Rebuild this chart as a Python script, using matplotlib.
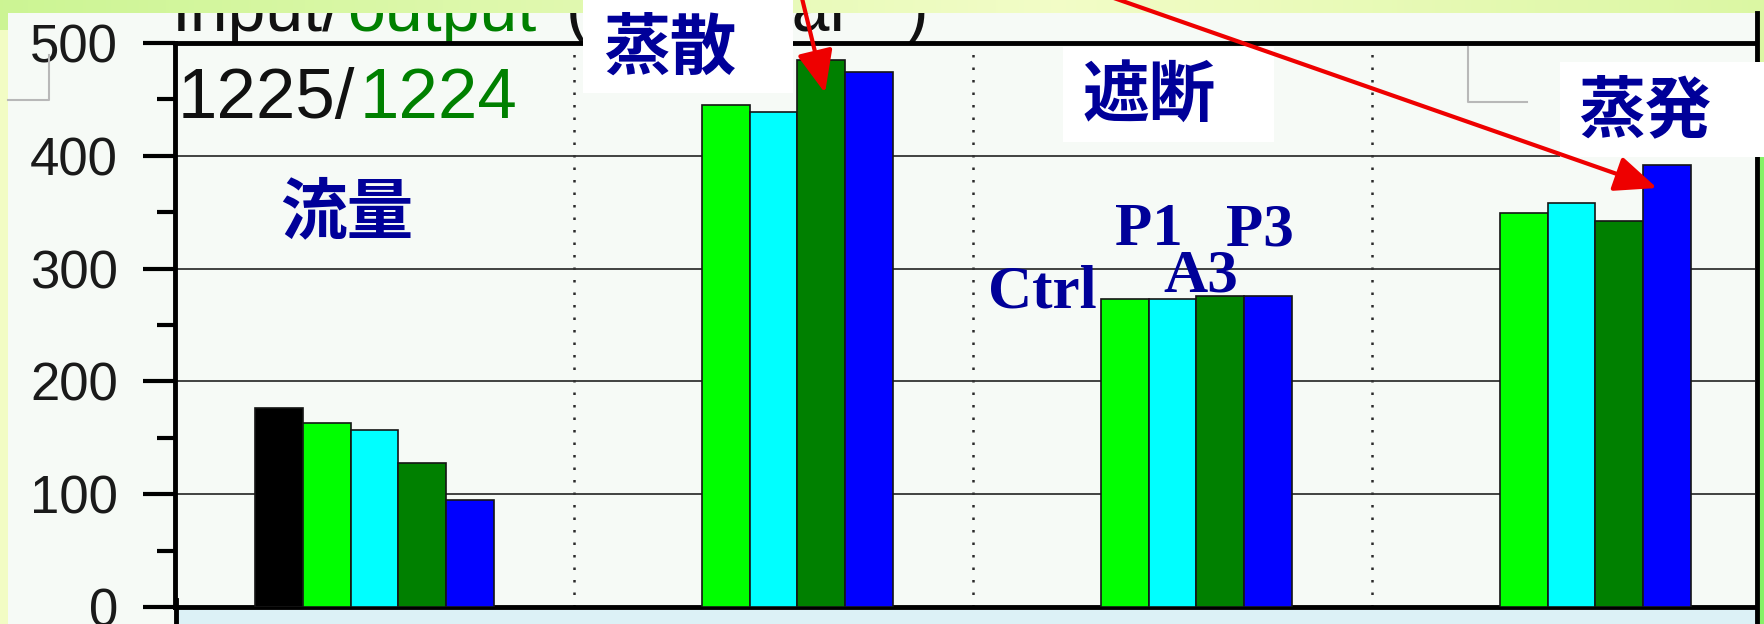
import matplotlib.pyplot as plt
from matplotlib.patches import Rectangle, FancyArrowPatch
import numpy as np

# water balance components and treatment series
categories = ['流量', '蒸散', '遮断', '蒸発']
series_names = ['Input', 'Ctrl', 'P1', 'A3', 'P3']
input_vals = [176, np.nan, np.nan, np.nan]
ctrl_vals = [163, 445, 273, 349]
p1_vals = [157, 439, 273, 358]
a3_vals = [128, 485, 276, 342]
p3_vals = [95, 474, 276, 392]
y_ticks = [0, 100, 200, 300, 400, 500]
y_minor = [50, 150, 250, 350, 450]
total_in, total_out = '1225', '1224'

series = [input_vals, ctrl_vals, p1_vals, a3_vals, p3_vals]
colors = ['#000000', '#00ff00', '#00ffff', '#008000', '#0000ff']
navy = '#000099'

W, H = 1764, 624
fig = plt.figure(figsize=(W / 100, H / 100), dpi=100)


def px_rect(x0, y0, x1, y1):
    # pixel box (origin top-left) -> figure fraction rect
    return [x0 / W, 1 - y1 / H, (x1 - x0) / W, (y1 - y0) / H]


# slide background behind the chart
xs = np.linspace(0, 1, W)
c_left = np.array([0.80, 0.96, 0.58])
c_mid = np.array([0.95, 0.99, 0.78])
c_right = np.array([0.86, 0.97, 0.64])
bg_img = np.empty((H, W, 3))
for c in range(3):
    bg_img[:, :, c] = np.interp(xs, [0, 0.6, 1], [c_left[c], c_mid[c], c_right[c]])
bg_img[30:, :10] = [0.95, 0.99, 0.77]
bg_img[70:, W - 8:] = [0.52, 0.95, 0.40]

bg = fig.add_axes([0, 0, 1, 1], zorder=0)
bg.imshow(bg_img, extent=(0, W, H, 0), aspect='auto', interpolation='bilinear')
bg.set_xlim(0, W)
bg.set_ylim(H, 0)
bg.axis('off')

# chart panel
panel = fig.add_axes(px_rect(8, 13, 1757, H), zorder=1)
panel.set_facecolor('#f6faf6')
panel.set_xlim(8, 1757)
panel.set_ylim(H, 13)
panel.set_xticks([])
panel.set_yticks([])
for s in ['top', 'left', 'bottom']:
    panel.spines[s].set_visible(False)
panel.spines['right'].set_linewidth(3.5)
panel.add_patch(Rectangle((177, 610), 1580, 20, fc='#dcf1f6', ec='none'))
panel.plot([176, 176], [600, 630], color='k', lw=3.5)

hdr = dict(fontsize=49, family='Liberation Sans', va='baseline', clip_on=True)
panel.text(172, 31, 'Input/', color='#111111', **hdr)
panel.text(347, 31, 'output', color='#008000', **hdr)
panel.text(566, 31, '(mm/year', color='#111111', **hdr)
panel.text(906, 31, ')', color='#111111', **hdr)

# bar chart
ax = fig.add_axes(px_rect(175, 43, 1755, 607), zorder=2)
ax.set_facecolor('none')
x = np.arange(len(categories)) + 0.5
width = 0.12
for k, (vals, col) in enumerate(zip(series, colors)):
    ax.bar(x + (k - 2) * width, vals, width, color=col, edgecolor='#151515',
           linewidth=1.2, zorder=3, label=series_names[k])

ax.set_xlim(0, 3.96)
ax.set_ylim(0, 500)
ax.set_xticks([])
ax.set_yticks(y_ticks)
ax.set_yticks(y_minor, minor=True)
ax.yaxis.grid(True, color='#333333', lw=1.3, zorder=1)
for b in range(1, len(categories)):
    ax.axvline(b, color='#2a2a2a', lw=1.8, ls=(0, (1, 4)), zorder=1)
ax.tick_params(axis='y', which='major', length=23, width=3, pad=18,
               labelsize=38, labelcolor='#1a1a1a')
ax.tick_params(axis='y', which='minor', length=13, width=3)
for lab in ax.get_yticklabels():
    lab.set_family('Liberation Sans')
for s in ['left', 'bottom', 'top']:
    ax.spines[s].set_linewidth(3.5)
ax.spines['right'].set_visible(False)

# annotation layer
ov = fig.add_axes([0, 0, 1, 1], zorder=3)
ov.set_xlim(0, W)
ov.set_ylim(H, 0)
ov.axis('off')

ov.plot([8, 49, 49], [100, 100, 55], color='#b8b8b8', lw=1.5)
ov.plot([1468, 1468, 1527], [47, 102, 102], color='#b8b8b8', lw=1.5)

ov.text(178, 118, total_in + '/', fontsize=51, family='Liberation Sans',
        color='#111111', va='baseline')
ov.text(360, 118, total_out, fontsize=51, family='Liberation Sans',
        color='#008000', va='baseline')

cjk = dict(family=['Noto Sans CJK JP'], weight='bold', color=navy,
           fontsize=48, ha='center', va='center')
label_boxes = [None, (583, 0, 793, 93), (1063, 47, 1274, 142), (1560, 62, 1770, 157)]
label_pos = [(347, 214), (670, 49), (1149, 97), (1645, 112)]
for name, box, (tx, ty) in zip(categories, label_boxes, label_pos):
    if box is not None:
        x0, y0, x1, y1 = box
        ov.add_patch(Rectangle((x0, y0), x1 - x0, y1 - y0, fc='white', ec='none'))
    ov.text(tx, ty, name, **cjk)

serif = dict(family='Liberation Serif', weight='bold', color=navy,
             fontsize=44, ha='left', va='baseline')
for name, (tx, ty) in zip(series_names[1:], [(988, 308), (1115, 245),
                                             (1163, 292), (1226, 245)]):
    ov.text(tx, ty, name, **serif)

for start, tip in [((800, -10), (825, 93)), ((1091, -10), (1657, 188))]:
    ov.add_patch(FancyArrowPatch(start, tip,
                                 arrowstyle='-|>,head_length=1.3,head_width=0.55',
                                 mutation_scale=20, lw=3.0, color='#ee0000',
                                 shrinkA=0, shrinkB=0))

fig.savefig('out.png', dpi=100)
